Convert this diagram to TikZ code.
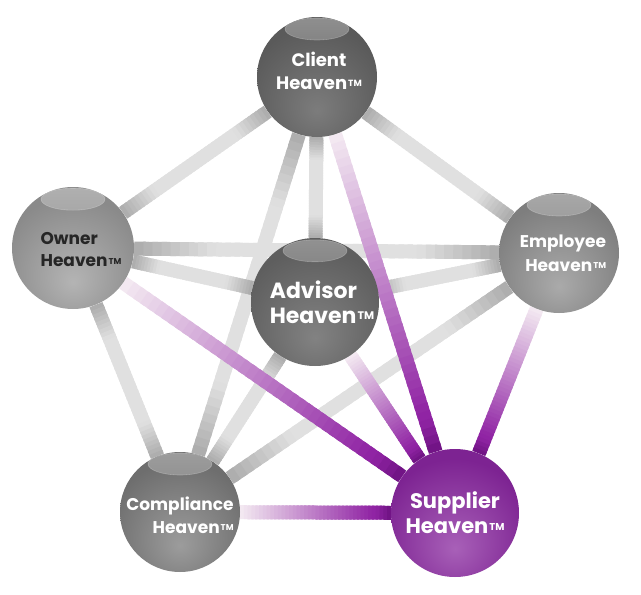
\documentclass[tikz,border=0pt]{standalone}
\usepackage{fontspec}
\setsansfont{Poppins}
\usetikzlibrary{calc}

\definecolor{greyend}{HTML}{ABABAB}
\definecolor{greymid}{HTML}{E0E0E0}
\definecolor{palepink}{HTML}{F4EBF2}
\definecolor{hvpurple}{HTML}{9024A4}
\definecolor{hvdeep}{HTML}{6E1282}

% ball colours: glow, body, rim
\definecolor{clientglow}{HTML}{7C7C7C}\definecolor{clientbody}{HTML}{5A5A5A}\definecolor{clientrim}{HTML}{3E3E3E}
\definecolor{ownerglow}{HTML}{B4B4B4}\definecolor{ownerbody}{HTML}{8A8A8A}\definecolor{ownerrim}{HTML}{686868}
\definecolor{emplglow}{HTML}{AAAAAA}\definecolor{emplbody}{HTML}{7E7E7E}\definecolor{emplrim}{HTML}{5C5C5C}
\definecolor{advglow}{HTML}{828282}\definecolor{advbody}{HTML}{5E5E5E}\definecolor{advrim}{HTML}{424242}
\definecolor{compglow}{HTML}{9C9C9C}\definecolor{compbody}{HTML}{6E6E6E}\definecolor{comprim}{HTML}{4E4E4E}
\definecolor{suppglow}{HTML}{A860B8}\definecolor{suppbody}{HTML}{7D2392}\definecolor{supprim}{HTML}{5A0E6C}

\newcommand\ballshade[4]{\pgfdeclareradialshading{#1}{\pgfpoint{0bp}{-14bp}}{%
  color(0bp)=(#2); color(30bp)=(#3); color(44bp)=(#3); color(52bp)=(#4); color(80bp)=(#4)}}
\ballshade{clientshade}{clientglow}{clientbody}{clientrim}
\ballshade{ownershade}{ownerglow}{ownerbody}{ownerrim}
\ballshade{emplshade}{emplglow}{emplbody}{emplrim}
\ballshade{advshade}{advglow}{advbody}{advrim}
\ballshade{compshade}{compglow}{compbody}{comprim}
\ballshade{suppshade}{suppglow}{suppbody}{supprim}

\pgfdeclarelayer{edges}
\pgfsetlayers{edges,main}

\newcommand\tmk[1]{\kern1pt\raisebox{0.3ex}{\fontsize{#1}{#1}\selectfont TM}}

% tube from #1 to #2: colours #3 (start) #4 (middle) #5 (end), limits #6 #7
\newcommand\tube[7]{%
  \path (#1) -- (#2) coordinate[pos=0] (ts) coordinate[pos=1] (te);
  \foreach \i in {0,...,39}{%
    \pgfmathsetmacro\tubea{\i/40}%
    \pgfmathsetmacro\tubeb{min(1,(\i+1.6)/40)}%
    \pgfmathsetmacro\tubem{(\i+0.5)/40}%
    \pgfmathsetmacro\pa{max(0,100*(1-\tubem/#6))}%
    \pgfmathsetmacro\pb{max(0,100*(\tubem-#7)/(1-#7))}%
    \colorlet{tubeB}{#5!\pb!#4}%
    \draw[line width=14pt, #3!\pa!tubeB] ($(ts)!\tubea!(te)$) -- ($(ts)!\tubeb!(te)$);
  }}
\newcommand\greytube[2]{\tube{#1}{#2}{greyend}{greymid}{greyend}{0.22}{0.78}}
\newcommand\purpletube[2]{\tube{#1}{#2}{palepink}{hvpurple}{hvdeep}{0.88}{0.9}}

\tikzset{
  ball/.style 2 args={circle, inner sep=0pt, minimum size=120pt, shading=#1,
    path picture={\shade[top color=#2!68!white, bottom color=#2, draw=white, draw opacity=0.25, line width=0.6pt]
      ($(path picture bounding box.center)!0.8!(path picture bounding box.north)$) ellipse (32pt and 11pt);}},
  plainball/.style={circle, inner sep=0pt, minimum size=128pt, shading=#1},
  hvtext/.style={inner sep=0pt, text=white, font=\sffamily\bfseries}
}

\begin{document}
\begin{tikzpicture}[x=1pt,y=1pt]
\useasboundingbox (0,0) rectangle (641,-595);

% spheres
\node[ball={clientshade}{clientbody}] (client) at (317,-77) {};
\node[ball={ownershade}{ownerbody}, minimum size=122pt] (owner) at (73,-248) {};
\node[ball={emplshade}{emplbody}] (employee) at (559,-253) {};
\node[ball={advshade}{advbody}, minimum size=128pt] (advisor) at (315,-302) {};
\node[ball={compshade}{compbody}] (compliance) at (180,-512) {};
\node[plainball=suppshade] (supplier) at (455,-513) {};

% connectors behind the spheres
\begin{pgfonlayer}{edges}
\greytube{client}{owner}
\greytube{client}{employee}
\greytube{client}{compliance}
\greytube{owner}{compliance}
\greytube{owner}{advisor}
\greytube{employee}{compliance}
\greytube{employee}{advisor}
\greytube{advisor}{compliance}
\greytube{client}{advisor}
\greytube{owner}{employee}
\purpletube{client}{supplier}
\purpletube{owner}{supplier}
\purpletube{employee}{supplier}
\purpletube{advisor}{supplier}
\purpletube{compliance}{supplier}
\end{pgfonlayer}

% labels
\node[hvtext, align=center, font=\sffamily\bfseries\fontsize{18}{23}\selectfont] (clientT) at ($(client)+(2,6)$) {Client\\Heaven\tmk{9}};
\node[hvtext, align=left, text=black!85, font=\sffamily\bfseries\fontsize{17}{22}\selectfont] (ownerT) at ($(owner)+(8,-2)$) {Owner\\Heaven\tmk{8.5}};
\node[hvtext, align=right, font=\sffamily\bfseries\fontsize{17}{24}\selectfont] (employeeT) at ($(employee)+(4,0)$) {Employee\\Heaven\tmk{8.5}};
\node[hvtext, align=left, font=\sffamily\bfseries\fontsize{22}{25}\selectfont] (advisorT) at ($(advisor)+(7,0)$) {Advisor\\Heaven\tmk{11}};
\node[hvtext, align=right, font=\sffamily\bfseries\fontsize{17}{23}\selectfont] (complianceT) at ($(compliance)+(0,-3)$) {Compliance\\Heaven\tmk{8.5}};
\node[hvtext, align=center, font=\sffamily\bfseries\fontsize{21}{25}\selectfont] (supplierT) at (supplier) {Supplier\\Heaven\tmk{10}};
\end{tikzpicture}
\end{document}
